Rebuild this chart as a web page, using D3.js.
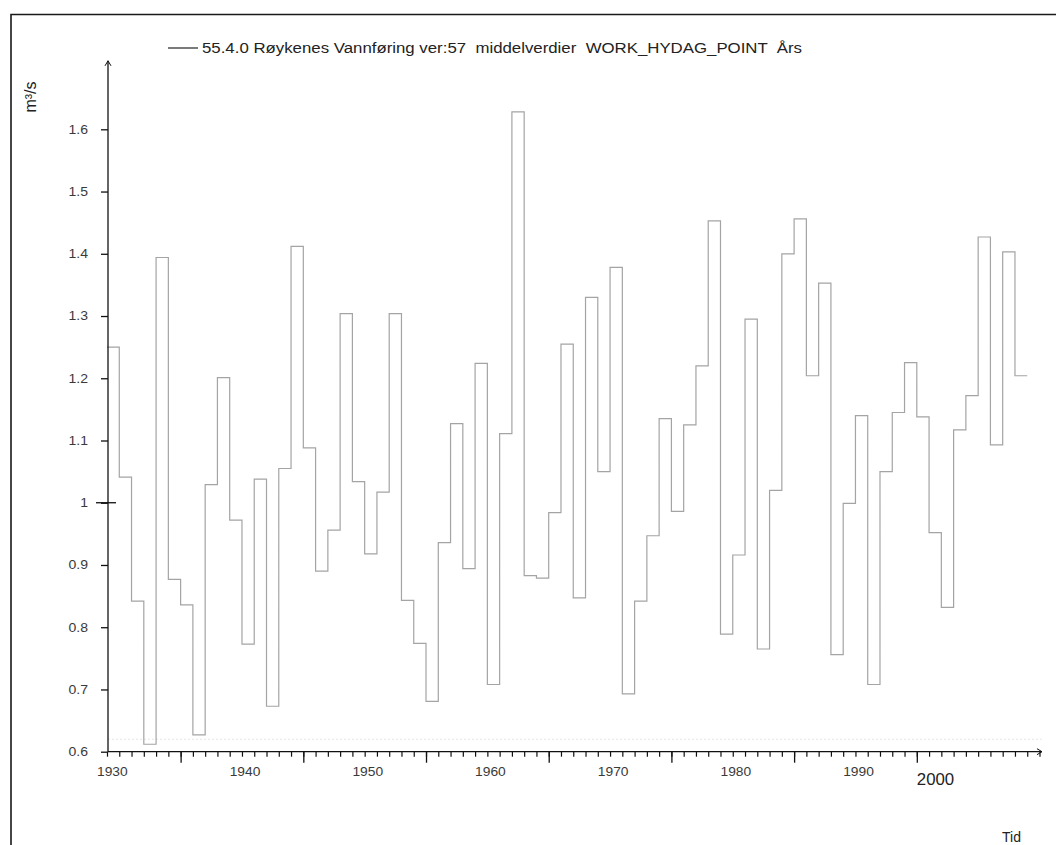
<!DOCTYPE html>
<html>
<head>
<meta charset="utf-8">
<script src="https://cdn.jsdelivr.net/npm/d3@7"></script>
<style>
  body { margin: 0; background: #fff; }
  svg { display: block; font-family: "Liberation Sans", Arial, sans-serif; }
</style>
</head>
<body>
<svg id="chart" width="1056" height="845"></svg>
<script>
// ── data ───────────────────────────────────────────────────────────────────
const years = d3.range(1930, 2005);
const flow = [
  1.250, 1.041, 0.842, 0.612, 1.394, 0.877, 0.836, 0.627, 1.029, 1.201,
  0.972, 0.773, 1.038, 0.673, 1.055, 1.412, 1.088, 0.890, 0.956, 1.304,
  1.034, 0.918, 1.017, 1.304, 0.843, 0.774, 0.681, 0.936, 1.127, 0.894,
  1.224, 0.708, 1.111, 1.628, 0.883, 0.879, 0.984, 1.255, 0.847, 1.330,
  1.050, 1.378, 0.693, 0.842, 0.947, 1.135, 0.986, 1.125, 1.220, 1.453,
  0.789, 0.916, 1.295, 0.765, 1.020, 1.400, 1.456, 1.204, 1.353, 0.756,
  0.999, 1.140, 0.708, 1.050, 1.145, 1.225, 1.138, 0.952, 0.832, 1.117,
  1.172, 1.427, 1.093, 1.403, 1.204
];
const yTicks = [0.6, 0.7, 0.8, 0.9, 1.0, 1.1, 1.2, 1.3, 1.4, 1.5, 1.6];
const decadeLabels = [1930, 1940, 1950, 1960, 1970, 1980, 1990];
const majorTicks = [1936, 1946, 1956, 1966, 1976, 1986, 1996];
const bigLabel = { year: 1996, text: '2000' };
const legendText = '55.4.0 Røykenes Vannføring ver:57  middelverdier  WORK_HYDAG_POINT  Års';
const yTitle = 'm³/s';
const xTitle = 'Tid';

// ── scales ─────────────────────────────────────────────────────────────────
const svg = d3.select('#chart');
const x = d3.scaleLinear().domain([1930, 2006]).range([107, 1039.5]);
const y = d3.scaleLinear().domain([0.6, 1.6]).range([751.7, 129.3]);
const x0 = 108, yBase = y(0.6);
const xEnd = x(2006.2), yTop = y(1.71);

// frame
svg.append('path')
  .attr('d', 'M11,845 V14.5 H1056')
  .attr('fill', 'none').attr('stroke', '#1a1a1a').attr('stroke-width', 1.6);

// faint reference line near the bottom
svg.append('line')
  .attr('x1', x0).attr('x2', xEnd).attr('y1', y(0.62)).attr('y2', y(0.62))
  .attr('stroke', '#e6e6e6').attr('stroke-dasharray', '2,2');

// ── step line ──────────────────────────────────────────────────────────────
const pts = years.map((yr, i) => ({ t: yr, v: flow[i] }));
pts.push({ t: years[years.length - 1] + 1, v: flow[flow.length - 1] });
svg.append('path').datum(pts)
  .attr('fill', 'none').attr('stroke', '#a4a4a4').attr('stroke-width', 1.2)
  .attr('d', d3.line().x(d => x(d.t)).y(d => y(d.v)).curve(d3.curveStepAfter));

// ── y axis ─────────────────────────────────────────────────────────────────
const yAx = svg.append('g').attr('transform', `translate(${x0},0)`)
  .call(d3.axisLeft(y).tickValues(yTicks).tickSize(7)
    .tickFormat(d => String(+d.toFixed(1))));
yAx.select('.domain').remove();
yAx.selectAll('.tick line').attr('stroke', '#111').attr('stroke-width', 1.3);
yAx.selectAll('.tick text')
  .attr('x', 0).attr('fill', '#3a3a3a').attr('font-size', 12)
  .attr('font-family', '"Liberation Sans", Arial, sans-serif')
  .attr('transform', 'translate(-20,0) scale(1.17,1)');
// the 1.0 tick crosses the axis
svg.append('line')
  .attr('x1', x0 - 12).attr('x2', x0 + 8).attr('y1', y(1)).attr('y2', y(1))
  .attr('stroke', '#111').attr('stroke-width', 1.3);
svg.append('line')
  .attr('x1', x0).attr('x2', x0).attr('y1', yBase).attr('y2', yTop)
  .attr('stroke', '#111').attr('stroke-width', 1.3);
svg.append('path')
  .attr('d', `M${x0 - 3},${yTop + 5} L${x0},${yTop} L${x0 + 3},${yTop + 5}`)
  .attr('fill', 'none').attr('stroke', '#111').attr('stroke-width', 1);

svg.append('text')
  .attr('transform', 'translate(36,97) rotate(-90)')
  .attr('text-anchor', 'middle').attr('font-size', 16).attr('fill', '#222')
  .text(yTitle);

// ── x axis ─────────────────────────────────────────────────────────────────
const minorAx = svg.append('g').attr('transform', `translate(0,${yBase})`)
  .call(d3.axisBottom(x).tickValues(d3.range(1930, 2007)).tickSize(5).tickFormat(''));
minorAx.select('.domain').remove();
minorAx.selectAll('.tick line').attr('stroke', '#111').attr('stroke-width', 1.2);

const majorAx = svg.append('g').attr('transform', `translate(0,${yBase})`)
  .call(d3.axisBottom(x).tickValues(majorTicks).tickSize(11).tickFormat(''));
majorAx.select('.domain').remove();
majorAx.selectAll('.tick line').attr('stroke', '#111').attr('stroke-width', 1.3);

svg.append('line')
  .attr('x1', x0).attr('x2', xEnd).attr('y1', yBase).attr('y2', yBase)
  .attr('stroke', '#111').attr('stroke-width', 1.3);
svg.append('path')
  .attr('d', `M${xEnd - 5},${yBase - 3} L${xEnd},${yBase} L${xEnd - 5},${yBase + 3}`)
  .attr('fill', 'none').attr('stroke', '#111').attr('stroke-width', 1);

svg.selectAll('.decade').data(decadeLabels).join('text')
  .attr('class', 'decade')
  .attr('transform', (d, i) => `translate(${x(d) - (i === 0 ? 10 : 0)},776) scale(1.15,1)`)
  .attr('font-size', 12).attr('fill', '#3a3a3a')
  .text(d => d);

svg.append('text')
  .attr('transform', `translate(${x(bigLabel.year)},785) scale(1.05,1)`)
  .attr('font-size', 16).attr('fill', '#222')
  .text(bigLabel.text);

svg.append('text')
  .attr('x', 1002).attr('y', 842)
  .attr('font-size', 14).attr('fill', '#222')
  .text(xTitle);

// ── legend ─────────────────────────────────────────────────────────────────
svg.append('line')
  .attr('x1', 168).attr('x2', 198).attr('y1', 48).attr('y2', 48)
  .attr('stroke', '#222').attr('stroke-width', 1.2);
svg.append('text')
  .attr('x', 202).attr('y', 53)
  .attr('font-size', 14).attr('fill', '#222')
  .attr('textLength', 600).attr('lengthAdjust', 'spacingAndGlyphs')
  .style('white-space', 'pre')
  .text(legendText);
</script>
</body>
</html>
